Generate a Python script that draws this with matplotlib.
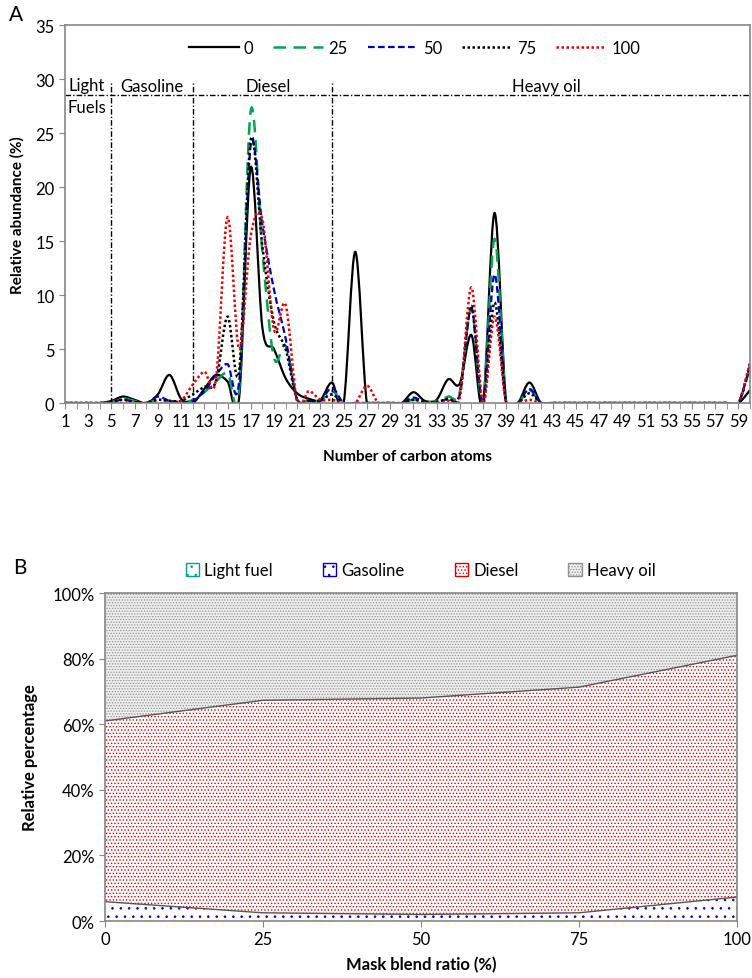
import numpy as np
import matplotlib.pyplot as plt
from matplotlib.path import Path
from matplotlib.patches import PathPatch, Patch
from matplotlib.lines import Line2D

plt.rcParams['font.family'] = ['Lato', 'DejaVu Sans']
plt.rcParams['hatch.linewidth'] = 0.6

# # Donnees figure A : abondance relative (%) par nombre de carbones
carbons = np.arange(1, 61)
ratio_0 = [0, 0, 0, 0, 0.2, 0.6, 0.3, 0, 0.8, 2.6,
           0.4, 0, 1.3, 2.6, 2.0, 0.5, 21.8, 7.0, 5.0, 2.3,
           0.9, 0.4, 0.3, 1.9, 0, 14.0, 0, 0, 0, 0,
           1.0, 0.2, 0.3, 2.2, 1.8, 6.3, 0, 17.6, 0, 0,
           1.9, 0, 0, 0, 0, 0, 0, 0, 0, 0,
           0, 0, 0, 0, 0, 0, 0, 0, 0, 1.2]
ratio_25 = [0, 0, 0, 0, 0.1, 0.4, 0.2, 0, 0.3, 0.2,
            0, 0.3, 1.0, 2.0, 2.8, 1.3, 27.1, 14.0, 4.2, 5.3,
            0.4, 0.3, 0.2, 1.1, 0, 0, 0, 0, 0, 0,
            0.3, 0.1, 0.2, 0.6, 1.0, 8.8, 0, 15.2, 0, 0,
            1.2, 0, 0, 0, 0, 0, 0, 0, 0, 0,
            0, 0, 0, 0, 0, 0, 0, 0, 0, 3.3]
ratio_50 = [0, 0, 0, 0, 0.1, 0.3, 0.1, 0, 0.6, 0.2,
            0.1, 0.2, 1.1, 2.6, 3.6, 2.0, 23.9, 16.5, 10.5, 6.0,
            0.3, 0.2, 0.2, 1.4, 0, 0, 0, 0, 0, 0,
            0.5, 0.1, 0.1, 0.4, 0.8, 8.8, 0, 11.9, 0, 0,
            1.3, 0, 0, 0, 0, 0, 0, 0, 0, 0,
            0, 0, 0, 0, 0, 0, 0, 0, 0, 3.5]
ratio_75 = [0, 0, 0, 0, 0.1, 0.3, 0.1, 0, 0.3, 0.2,
            0.2, 0.8, 1.5, 2.0, 8.0, 3.0, 24.4, 14.5, 7.5, 5.0,
            0.3, 0.2, 0.2, 0.8, 0, 0, 0, 0, 0, 0,
            0.3, 0.1, 0.1, 0.4, 0.8, 9.0, 0, 9.3, 0, 0,
            0.9, 0, 0, 0, 0, 0, 0, 0, 0, 0,
            0, 0, 0, 0, 0, 0, 0, 0, 0, 3.5]
ratio_100 = [0, 0, 0, 0, 0, 0, 0, 0, 0, 0,
             0.2, 1.7, 2.9, 2.2, 17.2, 5.0, 15.5, 17.0, 6.8, 9.1,
             0.1, 1.1, 0.3, 0.3, 0, 0, 1.6, 0, 0, 0,
             0, 0, 0, 0.2, 0.5, 10.7, 0, 8.0, 0, 0,
             0.3, 0, 0, 0, 0, 0, 0, 0, 0, 0,
             0, 0, 0, 0, 0, 0, 0, 0, 0, 3.8]
series_labels = ['0', '25', '50', '75', '100']
fuel_bounds = [5, 12, 24]
fuel_names = ['Gasoline', 'Diesel', 'Heavy oil']

# # Donnees figure B : repartition par coupe (%)
blend = [0, 25, 50, 75, 100]
light_fuel = [0, 0, 0, 0, 0]
gasoline = [5.9, 2.5, 2.0, 2.5, 7.3]
diesel = [55.1, 64.8, 66.0, 68.8, 73.7]
heavy_oil = [39.0, 32.7, 32.0, 28.7, 19.0]

GRIS = '#868686'


def courbe_lissee(x, y):
    # courbe de Bezier facon Excel (lissage Catmull-Rom)
    x = np.asarray(x, float)
    y = np.asarray(y, float)
    pts = np.column_stack([x, y])
    n = len(pts)
    verts = [pts[0]]
    codes = [Path.MOVETO]
    for i in range(n - 1):
        p0 = pts[i - 1] if i > 0 else pts[i]
        p1 = pts[i]
        p2 = pts[i + 1]
        p3 = pts[i + 2] if i + 2 < n else pts[i + 1]
        c1 = p1 + (p2 - p0) / 6
        c2 = p2 - (p3 - p1) / 6
        verts += [c1, c2, p2]
        codes += [Path.CURVE4] * 3
    return Path(verts, codes)


def style_axes(ax):
    for s in ax.spines.values():
        s.set_color(GRIS)
        s.set_linewidth(1.2)
    ax.tick_params(which='both', color=GRIS, direction='out', labelsize=12)


fig = plt.figure(figsize=(7.52, 9.79), dpi=100)

# # A
ax1 = fig.add_axes([0.0864, 0.5873, 0.911, 0.386])
styles = [
    dict(color='black', ls='-', lw=1.6),
    dict(color='#00a650', ls=(0, (5, 3)), lw=1.8),
    dict(color='#0000cc', ls=(0, (3, 1.5)), lw=1.6),
    dict(color='black', ls=(0, (1, 1)), lw=1.8),
    dict(color='#ee0000', ls=(0, (1, 1)), lw=1.8),
]
handles = []
for data, st, lab in zip([ratio_0, ratio_25, ratio_50, ratio_75, ratio_100],
                         styles, series_labels):
    patch = PathPatch(courbe_lissee(carbons, data), fill=False,
                      edgecolor=st['color'], linestyle=st['ls'],
                      linewidth=st['lw'])
    ax1.add_patch(patch)
    handles.append(Line2D([], [], color=st['color'], linestyle=st['ls'],
                          linewidth=st['lw'], label=lab))

ax1.set_xlim(1, 60)
ax1.set_ylim(0, 35)
ax1.set_xticks(np.arange(1, 60, 2))
ax1.set_xticks(carbons, minor=True)
ax1.set_yticks(np.arange(0, 36, 5))
style_axes(ax1)
ax1.tick_params(axis='x', which='both', length=4)
ax1.tick_params(axis='y', length=4)
ax1.set_xlabel('Number of carbon atoms', fontsize=11, fontweight='bold',
               labelpad=14)
ax1.set_ylabel('Relative abundance (%)', fontsize=11, fontweight='bold',
               labelpad=8)

# separations des coupes
trait = dict(color='black', lw=1.0, ls=(0, (4, 1.5, 1, 1.5)))
ax1.plot([1, 60], [28.5, 28.5], **trait)
for b in fuel_bounds:
    ax1.plot([b, b], [0, 29.6], **trait)
ax1.text(2.9, 28.7, 'Light', ha='center', va='bottom', fontsize=12)
ax1.text(2.9, 28.2, 'Fuels', ha='center', va='top', fontsize=12)
ax1.text(8.5, 28.6, fuel_names[0], ha='center', va='bottom', fontsize=12)
ax1.text(18.5, 28.6, fuel_names[1], ha='center', va='bottom', fontsize=12)
ax1.text(42.5, 28.6, fuel_names[2], ha='center', va='bottom', fontsize=12)

ax1.legend(handles=handles, loc='upper center', bbox_to_anchor=(0.51, 1.0),
           ncol=5, frameon=False, fontsize=12, handlelength=3.0,
           handletextpad=0.3, columnspacing=1.2)
fig.text(0.012, 0.985, 'A', fontsize=15, va='center')

# # B
ax2 = fig.add_axes([0.1396, 0.0582, 0.840, 0.335])
couches = ax2.stackplot(blend, light_fuel, gasoline, diesel, heavy_oil,
                        colors=['white'] * 4)
motifs = [('#00a0a0', '..'), ('#0000cc', '..'), ('#e00000', '.....'),
          ('#909090', '......')]
fonds = ['white', 'white', 'white', '#eeeeee']
for c, (col, h), f in zip(couches, motifs, fonds):
    c.set_facecolor(f)
    c.set_edgecolor(col)
    c.set_hatch(h)
    c.set_linewidth(0)

cumul = np.cumsum([light_fuel, gasoline, diesel], axis=0)
for row in cumul[1:]:
    ax2.plot(blend, row, color='#555555', lw=1.0)

ax2.set_xlim(0, 100)
ax2.set_ylim(0, 100)
ax2.set_xticks(blend)
ax2.set_yticks(np.arange(0, 101, 20))
ax2.set_yticklabels(['%d%%' % v for v in range(0, 101, 20)])
style_axes(ax2)
ax2.tick_params(length=4)
ax2.set_xlabel('Mask blend ratio (%)', fontsize=12, fontweight='bold',
               labelpad=6)
ax2.set_ylabel('Relative percentage', fontsize=12, fontweight='bold',
               labelpad=10)

leg_handles = [Patch(facecolor=f, edgecolor=col, hatch=h, label=lab)
               for (col, h), f, lab in zip(motifs, fonds,
                                           ['Light fuel', 'Gasoline',
                                            'Diesel', 'Heavy oil'])]
ax2.legend(handles=leg_handles, loc='lower center', bbox_to_anchor=(0.5, 1.0),
           ncol=4, frameon=False, fontsize=12, handlelength=0.8,
           handleheight=0.8, handletextpad=0.3, columnspacing=3.0)
fig.text(0.018, 0.42, 'B', fontsize=15, va='center')

fig.savefig('out.png', dpi=100)
